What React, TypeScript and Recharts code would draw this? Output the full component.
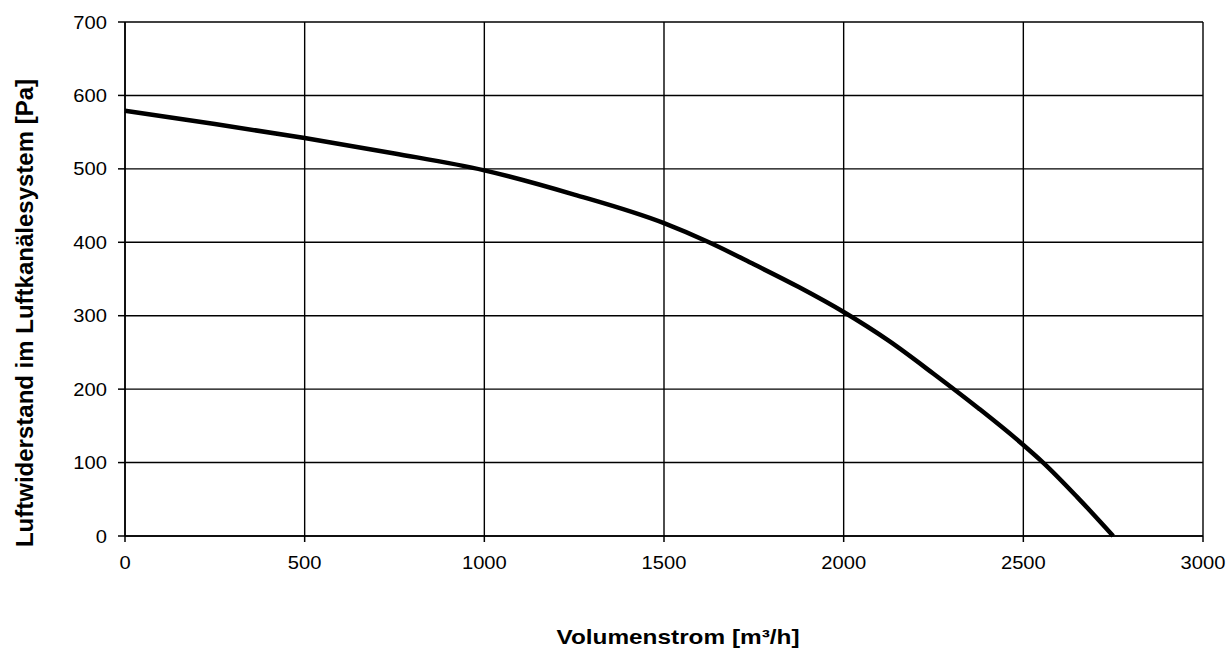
import React from 'react';
import { LineChart, Line, XAxis, YAxis, CartesianGrid, Label } from 'recharts';

// Kennlinie: Volumenstrom [m³/h] vs. Luftwiderstand [Pa]
const flowRates = [0, 250, 500, 750, 1000, 1250, 1500, 1625, 1750, 1875, 2000, 2125, 2250, 2375, 2500, 2555, 2650, 2750];
const pressures = [579, 561, 542, 521, 498, 465, 426, 400, 370, 339, 305, 266, 221, 174, 124, 100, 53, 0];

const xTicks = [0, 500, 1000, 1500, 2000, 2500, 3000];
const yTicks = [0, 100, 200, 300, 400, 500, 600, 700];

const xTitle = 'Volumenstrom [m³/h]';
const yTitle = 'Luftwiderstand im Luftkanälesystem [Pa]';

const FONT = '"Liberation Sans", Arial, sans-serif';

// tick text is a bit wider than plain Arial in the original, so stretch it slightly
const XTick = ({ x, y, payload }: any) => (
  <g transform={`translate(${x},${y})`}>
    <text transform="scale(1.12,1)" y={13} textAnchor="middle" fontSize={18} fontFamily={FONT} fill="#000">
      {payload.value}
    </text>
  </g>
);

const YTick = ({ x, y, payload }: any) => (
  <g transform={`translate(${x},${y})`}>
    <text transform="scale(1.12,1)" y={6.5} textAnchor="end" fontSize={18} fontFamily={FONT} fill="#000">
      {payload.value}
    </text>
  </g>
);

export default function App() {
  const data = flowRates.map((q, i) => ({ q, p: pressures[i] }));

  return (
    <div style={{ position: 'absolute', left: 0, top: 0, width: 1229, height: 653, background: '#fff', fontFamily: FONT }}>
      <LineChart
        width={1229}
        height={653}
        data={data}
        margin={{ top: 22, right: 26, left: 0, bottom: 77 }}
      >
        <CartesianGrid stroke="#000" strokeWidth={1.4} />
        <XAxis
          dataKey="q"
          type="number"
          domain={[0, 3000]}
          ticks={xTicks}
          height={40}
          tickSize={6}
          tickMargin={14}
          axisLine={{ stroke: '#000', strokeWidth: 1.5 }}
          tickLine={{ stroke: '#000', strokeWidth: 1.5 }}
          tick={<XTick />}
          interval={0}
        >
          <Label
            content={() => (
              <text
                x={678}
                y={644}
                textAnchor="middle"
                fontFamily={FONT}
                fontWeight="bold"
                fontSize={21}
                fill="#000"
                textLength={243}
                lengthAdjust="spacingAndGlyphs"
              >
                {xTitle}
              </text>
            )}
          />
        </XAxis>
        <YAxis
          type="number"
          domain={[0, 700]}
          ticks={yTicks}
          width={125}
          tickSize={7}
          tickMargin={11}
          axisLine={{ stroke: '#000', strokeWidth: 1.5 }}
          tickLine={{ stroke: '#000', strokeWidth: 1.5 }}
          tick={<YTick />}
          interval={0}
        >
          <Label
            content={() => (
              <text
                x={33}
                y={313}
                transform="rotate(-90 33 313)"
                textAnchor="middle"
                fontFamily={FONT}
                fontWeight="bold"
                fontSize={24}
                fill="#000"
              >
                {yTitle}
              </text>
            )}
          />
        </YAxis>
        <Line
          type="monotone"
          dataKey="p"
          stroke="#000"
          strokeWidth={4.5}
          dot={false}
          activeDot={false}
          isAnimationActive={false}
        />
      </LineChart>
    </div>
  );
}
